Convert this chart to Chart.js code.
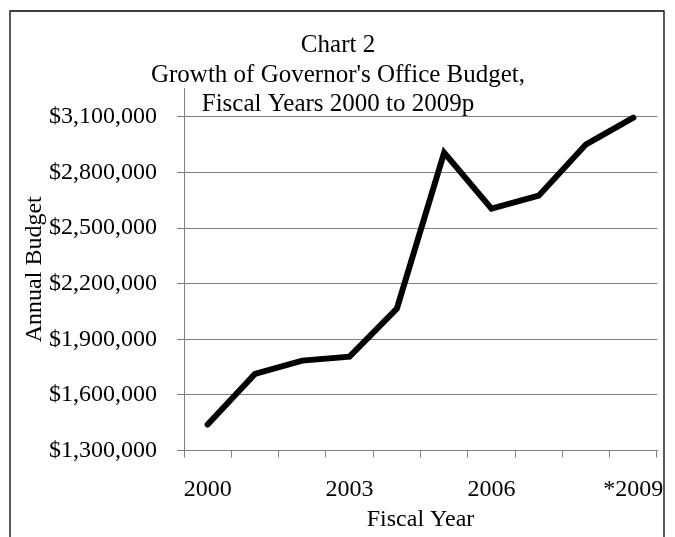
<!DOCTYPE html>
<html>
<head>
<meta charset="utf-8">
<script src="https://cdn.jsdelivr.net/npm/chart.js@4.4.1/dist/chart.umd.min.js"></script>
<style>
  html, body { margin: 0; padding: 0; background: #fff; }
  #wrap { width: 675px; height: 537px; }
</style>
</head>
<body>
<div id="wrap"><canvas id="myChart" width="675" height="537"></canvas></div>
<script>
const years = ["2000", "2001", "2002", "2003", "2004", "2005", "2006", "2007", "2008", "*2009"];
const budget = [1440000, 1713000, 1785000, 1806000, 2065000, 2907000, 2605000, 2675000, 2952000, 3096000];
const yTicks = [1300000, 1600000, 1900000, 2200000, 2500000, 2800000, 3100000];
const titleLines = ["Chart 2", "Growth of Governor's Office Budget,", "Fiscal Years 2000 to 2009p"];

const FONT = "'Liberation Serif', 'Times New Roman', serif";
const GRID = "#808080";

// рамка вокруг диаграммы и заголовок поверх области графика
const framePlugin = {
  id: "frame",
  afterDraw(chart) {
    const ctx = chart.ctx;
    ctx.save();
    ctx.strokeStyle = "#000";
    ctx.lineWidth = 1.3;
    ctx.beginPath();
    ctx.moveTo(10, 545);
    ctx.lineTo(10, 11);
    ctx.lineTo(664, 11);
    ctx.lineTo(664, 545);
    ctx.stroke();

    ctx.fillStyle = "#000";
    ctx.font = "25px " + FONT;
    ctx.textAlign = "center";
    ctx.textBaseline = "alphabetic";
    titleLines.forEach((t, i) => ctx.fillText(t, 338, 52 + i * 29.5));
    ctx.restore();
  }
};

const ctx = document.getElementById("myChart").getContext("2d");
window.myChart = new Chart(ctx, {
  type: "line",
  data: {
    labels: years,
    datasets: [{
      data: budget,
      borderColor: "#000",
      borderWidth: 6,
      borderCapStyle: "round",
      borderJoinStyle: "miter",
      pointRadius: 0,
      fill: false,
      tension: 0
    }]
  },
  options: {
    responsive: false,
    animation: false,
    layout: { padding: { left: 20, right: 18, top: 88, bottom: 0 } },
    plugins: {
      legend: { display: false },
      title: { display: false },
      tooltip: { enabled: false }
    },
    scales: {
      x: {
        offset: true,
        afterFit: function (scale) {
          scale.height = 86.5;
          // подпись *2009 не должна сдвигать правый край графика
          scale.paddingLeft = 0;
          scale.paddingRight = 0;
        },
        grid: {
          offset: true,
          drawOnChartArea: false,
          drawTicks: true,
          tickLength: 7,
          color: GRID
        },
        border: { color: GRID, width: 1 },
        ticks: {
          autoSkip: false,
          maxRotation: 0,
          padding: 18,
          color: "#000",
          font: { family: FONT, size: 24 },
          callback: function (value, index) {
            return index % 3 === 0 ? years[index] : "";
          }
        },
        title: {
          display: true,
          text: "Fiscal Year",
          color: "#000",
          font: { family: FONT, size: 24 },
          padding: { top: 0, bottom: 3 }
        }
      },
      y: {
        min: 1300000,
        max: 3256000,
        afterBuildTicks: function (scale) {
          scale.ticks = yTicks.map(v => ({ value: v }));
        },
        afterFit: function (scale) {
          scale.width = 164;
        },
        grid: {
          color: GRID,
          tickLength: 7,
          drawTicks: true
        },
        border: { color: GRID, width: 1 },
        ticks: {
          padding: 20,
          color: "#000",
          font: { family: FONT, size: 24 },
          callback: function (value) {
            return "$" + Number(value).toLocaleString("en-US");
          }
        },
        title: {
          display: true,
          text: "Annual Budget",
          color: "#000",
          font: { family: FONT, size: 24 },
          padding: 0
        }
      }
    }
  },
  plugins: [framePlugin]
});
</script>
</body>
</html>
